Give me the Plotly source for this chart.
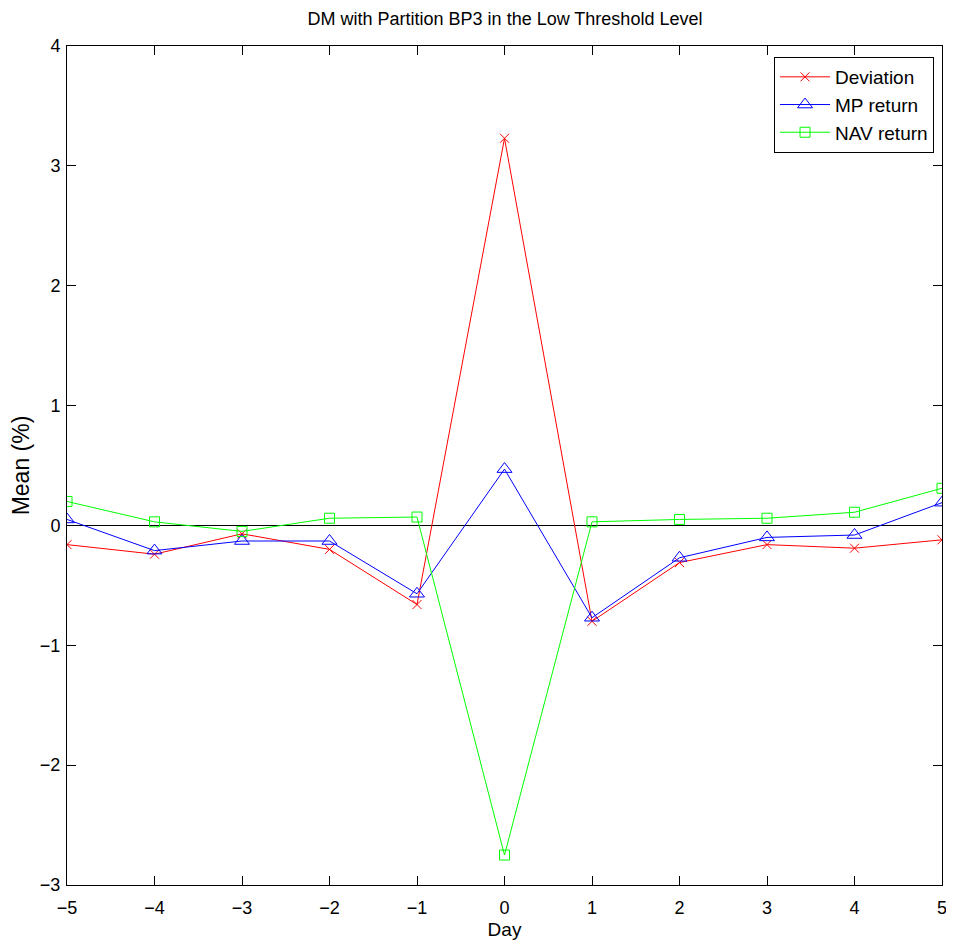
import plotly.graph_objects as go

days = [-5, -4, -3, -2, -1, 0, 1, 2, 3, 4, 5]
deviation = [-0.16, -0.24, -0.07, -0.20, -0.66, 3.23, -0.80, -0.31, -0.16, -0.19, -0.12]
mp_return = [0.05, -0.21, -0.13, -0.13, -0.57, 0.47, -0.77, -0.27, -0.10, -0.08, 0.19]
nav_return = [0.20, 0.03, -0.05, 0.06, 0.07, -2.75, 0.03, 0.05, 0.06, 0.11, 0.31]

x_ticks = [-5, -4, -3, -2, -1, 0, 1, 2, 3, 4, 5]
y_ticks = [-3, -2, -1, 0, 1, 2, 3, 4]


def lab(v):
    return ("\u2212%d" % -v) if v < 0 else str(v)


font = "Liberation Sans, Arial, sans-serif"

fig = go.Figure()
fig.add_trace(go.Scatter(x=days, y=deviation, mode="lines+markers", name="Deviation",
                         line=dict(color="#ff0000", width=1),
                         marker=dict(symbol="x-thin-open", size=9, color="#ff0000",
                                     line=dict(color="#ff0000", width=1))))
fig.add_trace(go.Scatter(x=days, y=mp_return, mode="lines+markers", name="MP return",
                         line=dict(color="#0000ff", width=1),
                         marker=dict(symbol="triangle-up-open", size=13, color="#0000ff",
                                     line=dict(color="#0000ff", width=1))))
fig.add_trace(go.Scatter(x=days, y=nav_return, mode="lines+markers", name="NAV return",
                         line=dict(color="#00ff00", width=1),
                         marker=dict(symbol="square-open", size=10, color="#00ff00",
                                     line=dict(color="#00ff00", width=1))))

W, H = 946, 943
L, R, T, B = 59, 12, 38, 66

fig.update_layout(
    template="none",
    width=W, height=H,
    margin=dict(l=L, r=R, t=T, b=B, pad=0),
    paper_bgcolor="white", plot_bgcolor="white",
    font=dict(family=font, size=18, color="black"),
    title=dict(text="DM with Partition BP3 in the Low Threshold Level",
               x=497 / W, xanchor="center", xref="container",
               y=1 - 11 / H, yanchor="middle",
               font=dict(size=18, family=font, color="black")),
    showlegend=True,
    legend=dict(x=0.9909, xanchor="right", y=0.9869, yanchor="top",
                bgcolor="white", bordercolor="black", borderwidth=1,
                itemwidth=50,
                font=dict(size=19, family=font, color="black"), tracegroupgap=0),
    xaxis=dict(range=[-5, 5], tickvals=x_ticks, ticktext=[lab(v) for v in x_ticks],
               ticks="inside", ticklen=9, tickcolor="black", tickwidth=1, showgrid=False,
               showline=True, linecolor="black", linewidth=1, mirror="ticks",
               zeroline=False, automargin=False, ticklabelstandoff=6,
               tickfont=dict(size=18, family=font, color="black"),
               title=dict(text="Day", font=dict(size=19, family=font, color="black"), standoff=6)),
    yaxis=dict(range=[-3, 4], tickvals=y_ticks, ticktext=[lab(v) for v in y_ticks],
               ticks="inside", ticklen=9, tickcolor="black", tickwidth=1, showgrid=False,
               showline=True, linecolor="black", linewidth=1, mirror="ticks",
               zeroline=True, zerolinecolor="black", zerolinewidth=1, automargin=False,
               ticklabelstandoff=2,
               tickfont=dict(size=18, family=font, color="black"),
               title=dict(text="Mean (%)", font=dict(size=23, family=font, color="black"), standoff=6)),
)

fig.write_html("out.html")
